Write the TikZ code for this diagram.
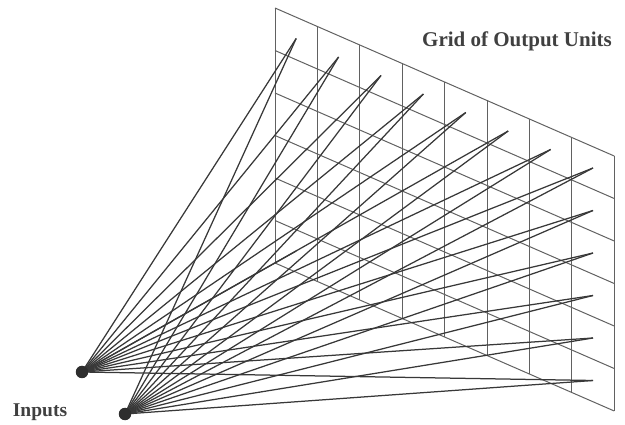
\documentclass[tikz,border=0pt]{standalone}
\usepackage{fontspec}
\setmainfont{Liberation Serif}
\begin{document}
\begin{tikzpicture}[x=1pt,y=-1pt,
  gridline/.style={draw=black!62, line width=1pt},
  link/.style={draw=black!78, line width=1.25pt},
  inputdot/.style={circle, fill=black!82, inner sep=0pt, minimum size=12.5pt},
  lbl/.style={text=black!75, font=\bfseries\fontsize{19.5}{23}\selectfont, inner sep=0pt}]
\useasboundingbox (0,0) rectangle (625,425);
% grid of output units
\foreach \i in {0,...,8} \draw[gridline] (275+42.4*\i, 8+18.5*\i) -- ++(0,255);
\foreach \j in {0,...,6} \draw[gridline] (275, 8+42.5*\j) -- ++(339.2,148);
% unit (cell centre) coordinates
\foreach \i in {0,...,7}{
  \foreach \j in {0,...,5}{
    \coordinate (u\i-\j) at (275+42.4*\i+21.2, 8+18.5*\i+9.25+42.5*\j+21.25);
  }
}
% inputs
\coordinate (p1) at (82,372);
\coordinate (p2) at (125,414);
% connections
\foreach \t in {u0-0,u1-0,u2-0,u3-0,u4-0,u5-0,u6-0,u7-0,u7-1,u7-2,u7-3,u7-4,u7-5}{
  \draw[link] (p1) -- (\t);
  \draw[link] (p2) -- (\t);
}
\draw[link] (p1) -- (u0-5);
\node[inputdot] (in1) at (p1) {};
\node[inputdot] (in2) at (p2) {};
% labels
\node[lbl] (lin) at (40,412) {Inputs};
\node[lbl, font=\bfseries\fontsize{21}{25}\selectfont] (lgrid) at (517,41) {Grid of Output Units};
\end{tikzpicture}
\end{document}
